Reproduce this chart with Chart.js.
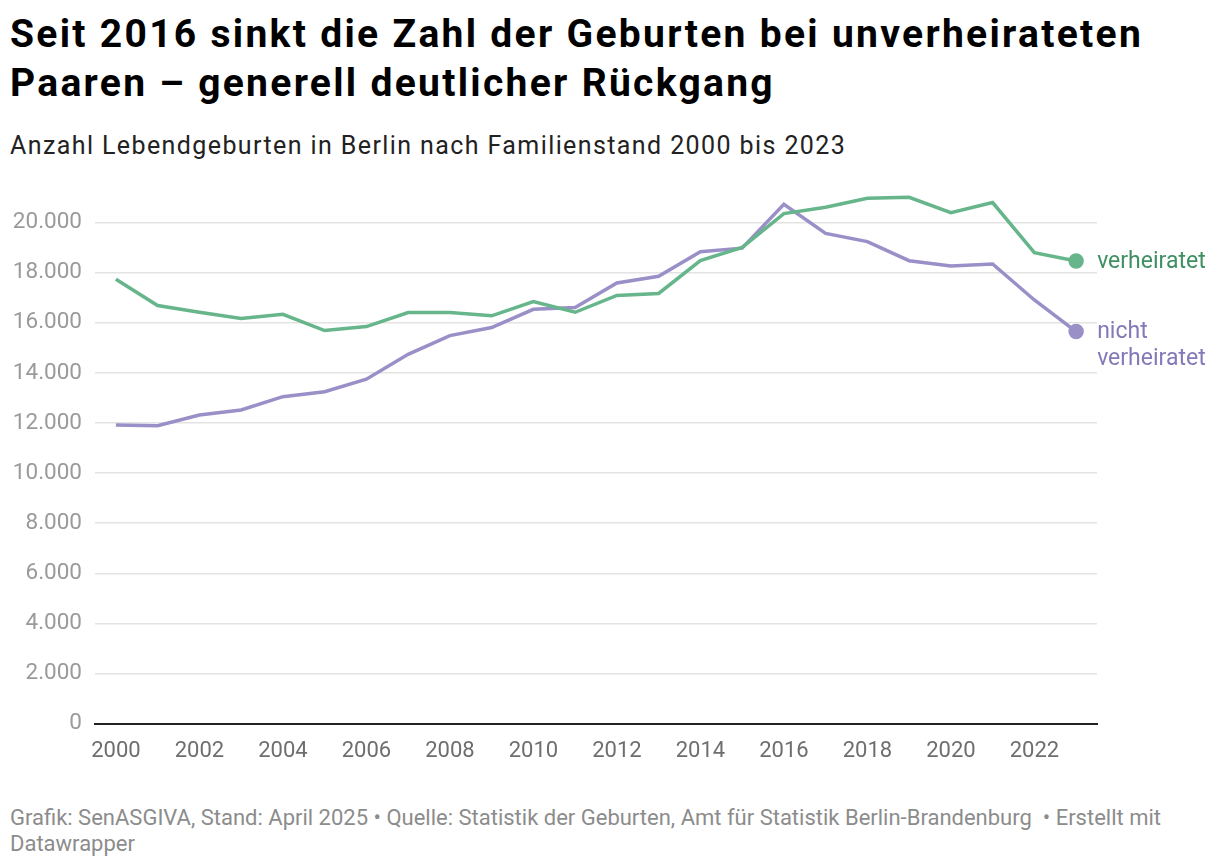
<!DOCTYPE html>
<html lang="de">
<head>
<meta charset="utf-8">
<script src="https://cdn.jsdelivr.net/npm/chart.js@4.4.1/dist/chart.umd.min.js"></script>
<style>
  body { margin: 0; background: #fff; font-family: Roboto, sans-serif; }
  #wrap { position: relative; width: 1220px; height: 866px; }
  h1 { position: absolute; left: 10px; top: 10px; margin: 0; font-size: 39px; line-height: 49px; font-weight: 700; color: #000; letter-spacing: 2.3px; white-space: nowrap; }
  #sub { position: absolute; left: 10px; top: 131px; font-size: 25px; line-height: 30px; letter-spacing: 1.4px; color: #222; white-space: nowrap; }
  #foot { position: absolute; left: 10px; top: 805px; font-size: 22px; line-height: 26px; color: #8c8c8c; white-space: nowrap; }
  #box { position: absolute; left: 0; top: 146px; width: 1220px; height: 634px; }
</style>
</head>
<body>
<div id="wrap">
  <h1>Seit 2016 sinkt die Zahl der Geburten bei unverheirateten<br>Paaren – generell deutlicher Rückgang</h1>
  <div id="sub">Anzahl Lebendgeburten in Berlin nach Familienstand 2000 bis 2023</div>
  <div id="box"><canvas id="canvas"></canvas></div>
  <div id="foot">Grafik: SenASGIVA, Stand: April 2025 • Quelle: Statistik der Geburten, Amt für Statistik Berlin-Brandenburg &nbsp;• Erstellt mit<br>Datawrapper</div>
</div>
<script>
// Jahre und Werte
var jahre = ["2000","2001","2002","2003","2004","2005","2006","2007","2008","2009","2010","2011",
             "2012","2013","2014","2015","2016","2017","2018","2019","2020","2021","2022","2023"];
var verheiratet = [17740, 16690, 16420, 16170, 16340, 15690, 15850, 16410, 16410, 16280, 16850, 16420,
                   17090, 17170, 18480, 19010, 20360, 20610, 20970, 21010, 20400, 20800, 18800, 18470];
var nichtVerheiratet = [11920, 11890, 12320, 12520, 13050, 13250, 13750, 14740, 15490, 15810, 16540, 16610,
                        17590, 17860, 18840, 18980, 20730, 19570, 19240, 18480, 18270, 18350, 16910, 15650];
var yTicks = [0, 2000, 4000, 6000, 8000, 10000, 12000, 14000, 16000, 18000, 20000];

const GRUEN = "#66b58b";
const LILA = "#9b8fc8";

// Beschriftung am Ende der Linien
var endLabels = {
    id: "endLabels",
    afterDatasetsDraw: function (chart) {
        var ctx = chart.ctx;
        var texte = [["verheiratet"], ["nicht", "verheiratet"]];
        var farben = ["#3f8f63", "#8479b8"];
        ctx.save();
        ctx.font = "23px Roboto";
        ctx.textAlign = "left";
        ctx.textBaseline = "middle";
        for (var d = 0; d < chart.data.datasets.length; d++) {
            var meta = chart.getDatasetMeta(d);
            var p = meta.data[meta.data.length - 1];
            ctx.fillStyle = farben[d];
            for (var i = 0; i < texte[d].length; i++) {
                ctx.fillText(texte[d][i], p.x + 21, p.y + 1 + i * 27);
            }
        }
        ctx.restore();
    }
};

function endPunkt(ctx) {
    return ctx.dataIndex === jahre.length - 1 ? 6 : 0;
}

new Chart(document.getElementById("canvas"), {
    type: "line",
    data: {
        labels: jahre,
        datasets: [{
            label: "verheiratet",
            data: verheiratet,
            borderColor: GRUEN,
            backgroundColor: GRUEN,
            borderWidth: 3.5,
            pointRadius: endPunkt,
            pointHoverRadius: endPunkt,
            tension: 0,
            fill: false
        }, {
            label: "nicht verheiratet",
            data: nichtVerheiratet,
            borderColor: LILA,
            backgroundColor: LILA,
            borderWidth: 3.5,
            pointRadius: endPunkt,
            pointHoverRadius: endPunkt,
            tension: 0,
            fill: false
        }]
    },
    options: {
        responsive: true,
        maintainAspectRatio: false,
        animation: false,
        layout: { padding: { top: 0, right: 123, left: 0, bottom: 0 } },
        plugins: { legend: { display: false }, tooltip: { enabled: false } },
        scales: {
            x: {
                offset: true,
                grid: { display: false, drawTicks: false },
                border: { display: true, color: "#222", width: 2 },
                ticks: {
                    autoSkip: false,
                    maxRotation: 0,
                    padding: 15,
                    color: "#6e6e6e",
                    font: { family: "Roboto", size: 22 },
                    callback: function (v, i) { return i % 2 === 0 ? jahre[i] : ""; }
                }
            },
            y: {
                min: 0,
                max: 22000,
                afterBuildTicks: function (scale) {
                    scale.ticks = yTicks.map(function (v) { return { value: v }; });
                },
                afterFit: function (scale) { scale.width = 95; },
                grid: { color: "#e3e3e3", lineWidth: 1.5, drawTicks: false },
                border: { display: false },
                ticks: {
                    padding: 13,
                    color: "#9a9a9a",
                    font: { family: "Roboto", size: 22.5 },
                    callback: function (v) { return v.toLocaleString("de-DE"); }
                }
            }
        }
    },
    plugins: [endLabels]
});
</script>
</body>
</html>
